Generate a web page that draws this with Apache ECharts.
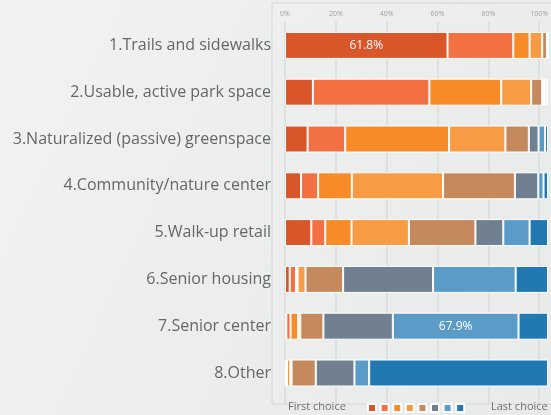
<!DOCTYPE html>
<html>
<head>
<meta charset="utf-8">
<script src="https://cdn.jsdelivr.net/npm/echarts@6/dist/echarts.min.js"></script>
<style>
  html, body { margin: 0; padding: 0; }
  #chart_box {
    width: 551px;
    height: 415px;
    background: linear-gradient(115deg, #f1f3f2 0%, #eceeed 45%, #e8eae9 100%);
  }
</style>
</head>
<body>
<div id="chart_box"></div>
<script>
// categories, top to bottom
const categories = [
  '1.Trails and sidewalks',
  '2.Usable, active park space',
  '3.Naturalized (passive) greenspace',
  '4.Community/nature center',
  '5.Walk-up retail',
  '6.Senior housing',
  '7.Senior center',
  '8.Other'
];
// share of respondents (%) per rank, one value per category
const choice1 = [61.8, 10.6, 8.6, 6.1, 10.0, 1.8, 0.5, 0.3];
const choice2 = [25.0, 44.3, 14.3, 6.5, 5.3, 2.4, 1.6, 0.5];
const choice3 = [6.2, 27.3, 39.5, 12.8, 10.0, 0.6, 2.9, 1.2];
const choice4 = [4.8, 11.4, 21.4, 34.7, 21.8, 3.0, 0.8, 0.5];
const choice5 = [1.8, 4.2, 8.9, 27.3, 25.3, 14.3, 8.8, 9.2];
const choice6 = [0.2, 0.7, 3.7, 8.9, 10.6, 34.2, 26.4, 14.7];
const choice7 = [0.1, 0.7, 2.5, 2.0, 10.0, 31.4, 47.8, 5.6];
const choice8 = [0.1, 0.8, 1.1, 1.7, 7.0, 12.3, 11.2, 68.0];
const rankNames = ['1st', '2nd', '3rd', '4th', '5th', '6th', '7th', '8th'];
const xTicks = [0, 20, 40, 60, 80, 100];
// printed value labels: [category index, rank index, text]
const callouts = [[0, 0, '61.8%'], [6, 6, '67.9%']];

const seriesColor = ['#d9552a', '#f27042', '#f68b28', '#f79b45', '#c4895c', '#718090', '#5b9bc8', '#2278b0'];
const ranks = [choice1, choice2, choice3, choice4, choice5, choice6, choice7, choice8];

const myEcharts = echarts.init(document.getElementById('chart_box'));

let seriesList = [];
for (let i = 0; i < ranks.length; i++) {
  let data = ranks[i].map((v, c) => {
    let hit = callouts.find(o => o[0] === c && o[1] === i);
    if (hit) {
      return {
        value: v,
        label: { show: true, position: 'inside', formatter: hit[2], color: '#fff', fontSize: 12, fontFamily: 'Open Sans' }
      };
    }
    return v;
  });
  seriesList.push({
    name: rankNames[i],
    type: 'bar',
    stack: 'total',
    xAxisIndex: 1,
    yAxisIndex: 1,
    barWidth: 27,
    itemStyle: { color: seriesColor[i], borderColor: '#ffffff', borderWidth: 1 },
    emphasis: { disabled: true },
    data: data
  });
}

const option = {
  animation: false,
  graphic: [
    {
      type: 'rect',
      shape: { x: 272, y: 3, width: 290, height: 401 },
      style: { fill: 'rgba(255,255,255,0.08)', stroke: '#d6d8d7', lineWidth: 1 },
      z: -10
    },
    {
      type: 'text', left: 288, top: 401,
      style: { text: 'First choice', fill: '#6f6f6f', fontSize: 11, fontFamily: 'Open Sans' }
    },
    {
      type: 'text', left: 491, top: 401,
      style: { text: 'Last choice', fill: '#6f6f6f', fontSize: 11, fontFamily: 'Open Sans' }
    }
  ],
  legend: {
    left: 367,
    top: 403,
    padding: 0,
    itemWidth: 8,
    itemHeight: 8,
    itemGap: 2.6,
    icon: 'rect',
    selectedMode: false,
    formatter: () => '',
    data: rankNames
  },
  grid: [
    { left: 285, right: 3, top: 22, bottom: 11 },
    { left: 285, right: 3, top: 22, bottom: 18.6 }
  ],
  xAxis: [
    {
      gridIndex: 0,
      type: 'value',
      position: 'top',
      min: xTicks[0],
      max: xTicks[xTicks.length - 1],
      interval: 20,
      axisLine: { show: false },
      axisTick: { show: false },
      axisLabel: { formatter: '{value}%', color: '#a0a0a0', fontSize: 7, margin: 5, fontFamily: 'Open Sans' },
      splitLine: { show: true, lineStyle: { color: '#d9dbda', width: 1.5 } }
    },
    {
      gridIndex: 1,
      type: 'value',
      min: 0,
      max: 100,
      show: false
    }
  ],
  yAxis: [
    { gridIndex: 0, type: 'value', show: false },
    {
      gridIndex: 1,
      type: 'category',
      inverse: true,
      data: categories,
      axisLine: { show: false },
      axisTick: { show: false },
      axisLabel: { color: '#666666', fontSize: 16, margin: 14, fontFamily: 'Open Sans' }
    }
  ],
  series: seriesList
};
myEcharts.setOption(option);
</script>
</body>
</html>
